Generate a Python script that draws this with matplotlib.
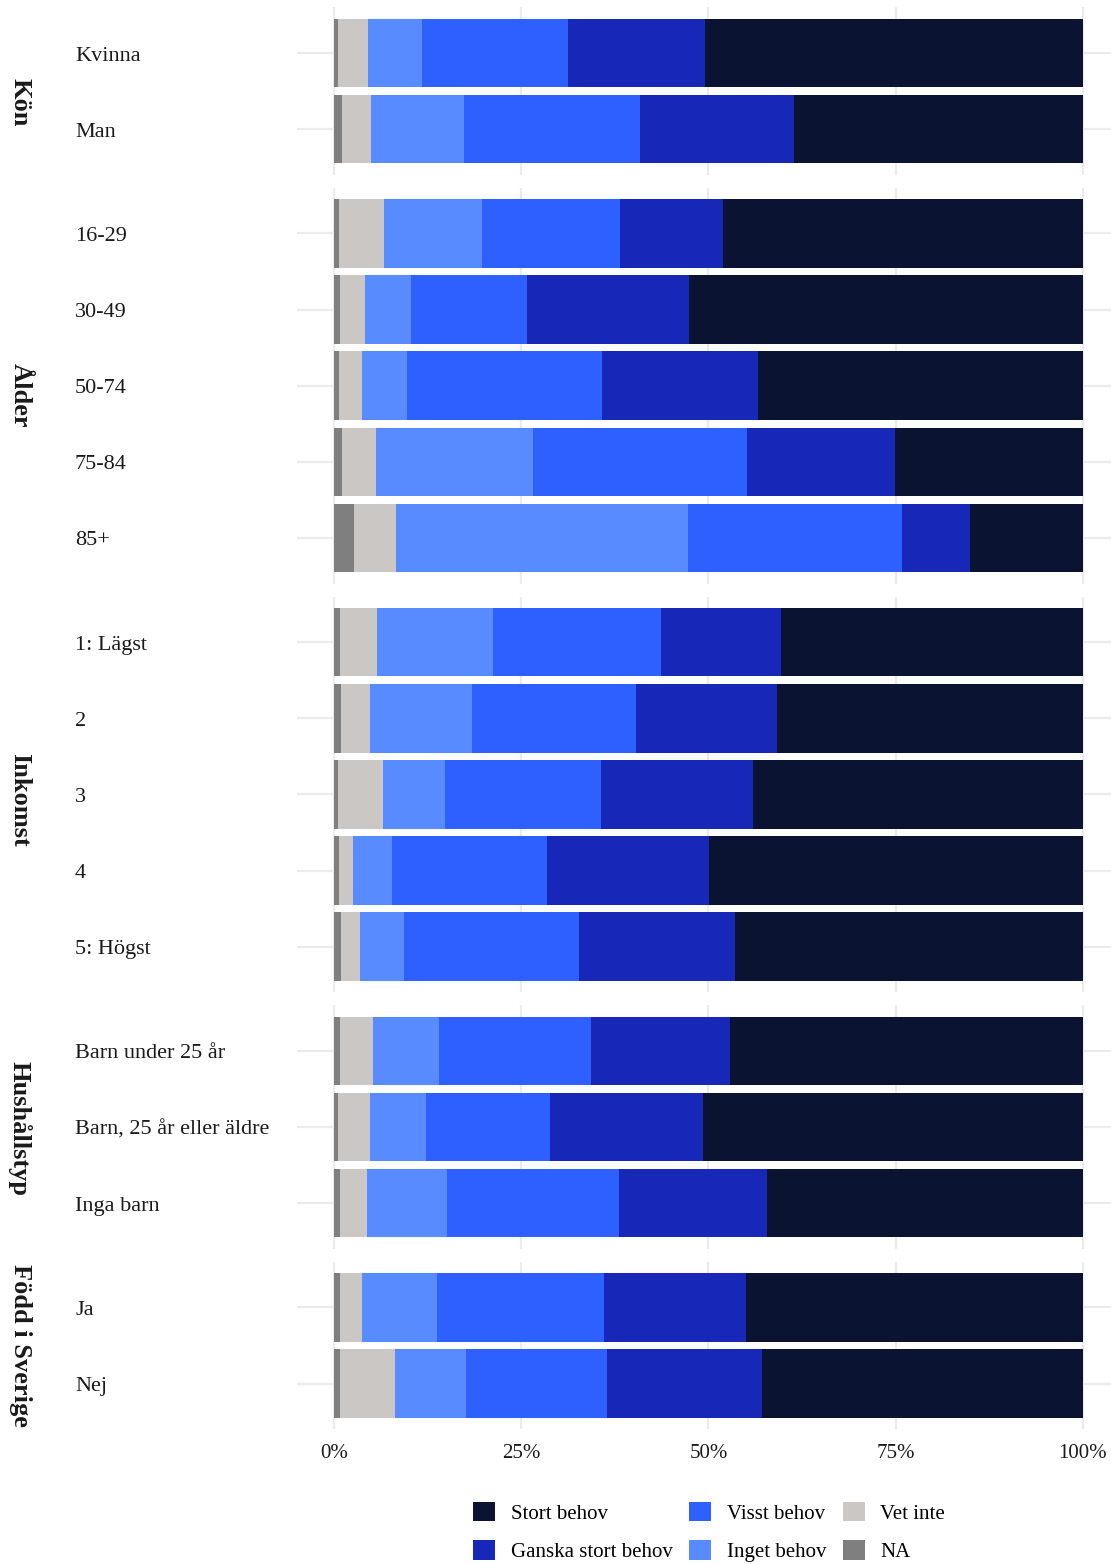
import matplotlib
matplotlib.use('Agg')
import matplotlib.pyplot as plt
import matplotlib.transforms as mtransforms
from matplotlib.patches import Patch

plt.rcParams['font.family'] = ['Liberation Serif', 'DejaVu Serif']

# grupper och kategorier
groups = ['Kön', 'Ålder', 'Inkomst', 'Hushållstyp', 'Född i Sverige']
categories = [
    ['Kvinna', 'Man'],
    ['16-29', '30-49', '50-74', '75-84', '85+'],
    ['1: Lägst', '2', '3', '4', '5: Högst'],
    ['Barn under 25 år', 'Barn, 25 år eller äldre', 'Inga barn'],
    ['Ja', 'Nej'],
]

# andelar i procent, samma ordning som categories (uppifrån och ned)
na_vals = [[0.5, 1.1], [0.7, 0.8, 0.7, 1.1, 2.7], [0.8, 0.9, 0.5, 0.7, 0.9],
           [0.8, 0.5, 0.8], [0.8, 0.8]]
vet_inte = [[4.1, 3.8], [6.0, 3.4, 3.0, 4.5, 5.6], [4.9, 3.9, 6.0, 1.8, 2.6],
            [4.4, 4.3, 3.6], [2.9, 7.3]]
inget = [[7.1, 12.4], [13.1, 6.1, 6.1, 21.0, 39.0], [15.6, 13.6, 8.3, 5.2, 5.9],
         [8.8, 7.5, 10.7], [10.0, 9.5]]
visst = [[19.5, 23.5], [18.4, 15.5, 26.0, 28.5, 28.5], [22.4, 21.9, 20.8, 20.7, 23.3],
         [20.3, 16.5, 23.0], [22.3, 18.8]]
ganska = [[18.4, 20.6], [13.8, 21.6, 20.8, 19.8, 9.1], [16.0, 18.8, 20.3, 21.7, 20.8],
          [18.6, 20.5, 19.7], [19.0, 20.7]]
stort = [[50.4, 38.6], [48.0, 52.6, 43.4, 25.1, 15.1], [40.3, 40.9, 44.1, 49.9, 46.5],
         [47.1, 50.7, 42.2], [45.0, 42.9]]

series = ['NA', 'Vet inte', 'Inget behov', 'Visst behov', 'Ganska stort behov', 'Stort behov']
values = [na_vals, vet_inte, inget, visst, ganska, stort]
colors = {
    'Stort behov': '#0B1332',
    'Ganska stort behov': '#1727B8',
    'Visst behov': '#2E60FF',
    'Inget behov': '#578BFF',
    'Vet inte': '#CBC7C4',
    'NA': '#7F7F7F',
}

W, H = 1111, 1564
fig = plt.figure(figsize=(W / 100, H / 100), dpi=100)

unit = 76.1  # px per kategori
gap = 13
left_px, right_px = 296.5, 1120.4
top = 7.4
grid_c = '#EBEBEB'
strip_shift = [11, 10, 5, 1, 0]  # px nedåt, som i originalet

down3 = mtransforms.ScaledTranslation(0, -3 / 100, fig.dpi_scale_trans)

for g, (name, cats) in enumerate(zip(groups, categories)):
    n = len(cats)
    h = (n + 0.2) * unit
    ax = fig.add_axes([left_px / W, 1 - (top + h) / H, (right_px - left_px) / W, h / H])
    top += h + gap

    ypos = list(range(n))
    left = [0.0] * n
    for s, vals in zip(series, values):
        v = [x / 100 for x in vals[g]]
        ax.barh(ypos, v, left=left, height=0.9, color=colors[s], zorder=2)
        left = [a + b for a, b in zip(left, v)]

    ax.set_xlim(-0.05, 1.05)
    ax.set_ylim(n - 1 + 0.6, -0.6)
    for sp in ax.spines.values():
        sp.set_visible(False)
    for xv in [0, 0.25, 0.5, 0.75, 1.0]:
        ax.axvline(xv, color=grid_c, lw=1.6, zorder=1)
    for yv in ypos:
        ax.axhline(yv, color=grid_c, lw=1.6, zorder=1)
    ax.set_yticks([])
    ax.tick_params(axis='both', length=0)

    # kategorietiketter
    tr = mtransforms.blended_transform_factory(fig.transFigure, ax.transData) + down3
    for yv, c in zip(ypos, cats):
        ax.text(75 / W, yv, c, transform=tr, ha='left', va='center',
                fontsize=16, color='#1A1A1A')

    # gruppetikett (strip)
    tr2 = (mtransforms.blended_transform_factory(fig.transFigure, ax.transAxes)
           + mtransforms.ScaledTranslation(0, -strip_shift[g] / 100, fig.dpi_scale_trans))
    ax.text(20 / W, 0.5, name, transform=tr2, rotation=-90, ha='center',
            va='center', fontsize=19, fontweight='bold', color='#1A1A1A')

    if g == len(groups) - 1:
        ax.set_xticks([0, 0.25, 0.5, 0.75, 1.0])
        ax.set_xticklabels(['0%', '25%', '50%', '75%', '100%'], fontsize=15,
                           color='#1A1A1A')
        ax.tick_params(axis='x', pad=10.5)
    else:
        ax.set_xticks([])

order = ['Stort behov', 'Ganska stort behov', 'Visst behov', 'Inget behov', 'Vet inte', 'NA']
handles = [Patch(facecolor=colors[s], label=s) for s in order]
fig.legend(handles=handles, loc='center', bbox_to_anchor=(709 / W, 1 - 1532 / H),
           ncol=3, frameon=False, fontsize=15, handlelength=1.05, handleheight=1.05,
           handletextpad=0.75, columnspacing=0.8, labelspacing=0.8)

fig.savefig('out.png', dpi=100)
